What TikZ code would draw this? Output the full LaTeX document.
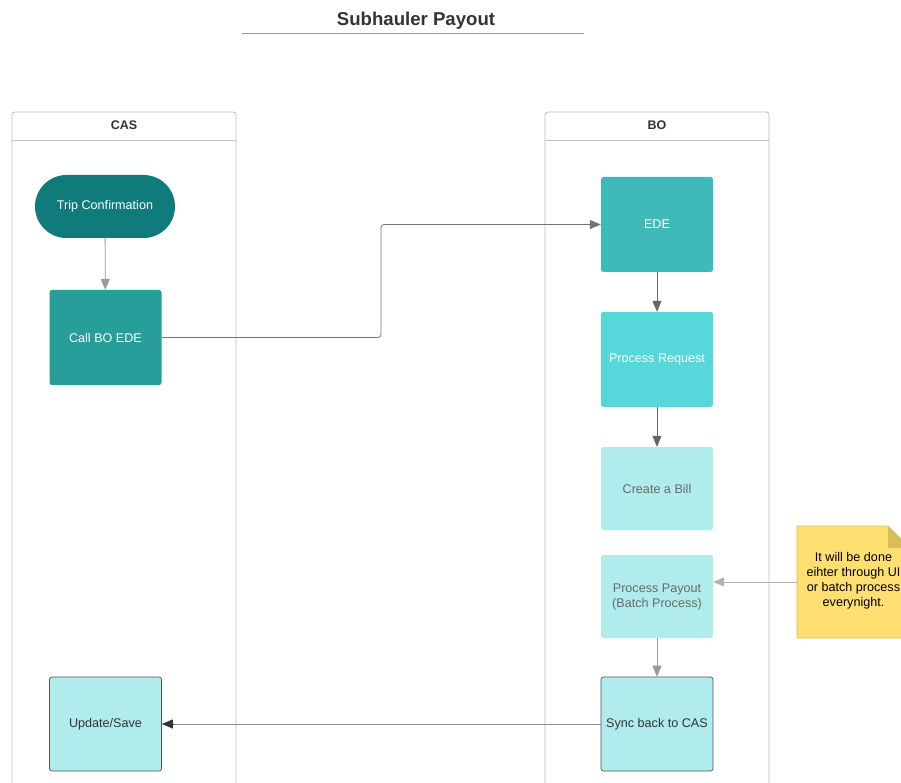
\documentclass[tikz,border=0pt]{standalone}
\usepackage{fontspec}
\setmainfont{Liberation Sans}
\usetikzlibrary{arrows.meta,positioning}
\definecolor{tripc}{HTML}{0F7B7B}
\definecolor{callc}{HTML}{279E99}
\definecolor{edec}{HTML}{3FB9BA}
\definecolor{prc}{HTML}{56D7DA}
\definecolor{lightc}{HTML}{B0ECEC}
\definecolor{notec}{HTML}{FFDF71}
\definecolor{noteb}{HTML}{D9BE55}
\definecolor{foldc}{HTML}{D8BD5A}
\definecolor{lanec}{HTML}{BDBDBD}
\definecolor{txtd}{HTML}{333333}
\definecolor{txtg}{HTML}{6A6A6A}
\tikzset{
  proc/.style={rectangle, rounded corners=2.5pt, minimum width=112pt, inner sep=2pt, align=center, font=\fontsize{12.6}{15}\selectfont},
  dark/.style={proc, fill=#1, text=white},
  pale/.style={proc, fill=lightc, text=txtg},
  framed/.style={proc, fill=lightc, draw=txtd!85, line width=0.7pt, text=txtd},
  conn/.style={line width=0.8pt, draw=#1, -{Triangle[length=11pt,width=9pt,fill=#1]}},
  lanehead/.style={font=\bfseries\fontsize{12.5}{15}\selectfont, text=txtd},
}
\begin{document}
\begin{tikzpicture}[x=1pt,y=-1pt]
\clip (0,0) rectangle (901,783);
\fill[white] (0,0) rectangle (901,783);
% title
\node[font=\bfseries\fontsize{18.6}{21}\selectfont, text=txtd] (title) at (416,20.5) {Subhauler Payout};
\draw[line width=1pt, draw=black!40] (242,34) -- (584,34);
% lanes
\draw[lanec, line width=0.8pt, rounded corners=3pt] (12,800) -- (12,112) -- (236,112) -- (236,800);
\draw[lanec, line width=0.8pt] (12,140) -- (236,140);
\node[lanehead] (cas) at (124,125) {CAS};
\draw[lanec, line width=0.8pt, rounded corners=3pt] (545,800) -- (545,112) -- (769,112) -- (769,800);
\draw[lanec, line width=0.8pt] (545,140) -- (769,140);
\node[lanehead] (bo) at (657,125) {BO};
% nodes
\node[dark=tripc, rounded corners=31.5pt, minimum width=140pt, minimum height=63pt] (trip) at (105,206.5) {Trip Confirmation};
\node[dark=callc, minimum height=95pt] (call) at (105.5,337.5) {Call BO EDE};
\node[dark=edec, minimum height=95pt] (ede) at (657,224.5) {EDE};
\node[dark=prc, minimum height=95pt] (pr) at (657,359.5) {Process Request};
\node[pale, minimum height=83pt] (bill) at (657,488.5) {Create a Bill};
\node[pale, minimum height=83pt] (payout) at (657,596.5) {Process Payout\\(Batch Process)};
\node[framed, minimum height=94pt] (sync) at (657,724) {Sync back to CAS};
\node[framed, minimum height=94pt] (upd) at (105.5,724) {Update/Save};
% note
\fill[notec, draw=noteb, line width=0.8pt] (797,526) -- (888,526) -- (910,548) -- (910,638) -- (797,638) -- cycle;
\fill[foldc] (888,526) -- (888,548) -- (910,548) -- cycle;
\node[font=\fontsize{12.6}{15}\selectfont, align=center, text=black, inner sep=0pt] (note) at (853.5,580.5) {It will be done\\eihter through UI\\or batch process\\everynight.};
\coordinate (noteL) at (797,582);
% connectors
\draw[conn=black!40] (trip) -- (call);
\draw[conn=black!55, rounded corners=3pt] (call.east) -- (381,337.5) -- (381,224.5) -- (ede.west);
\draw[conn=black!60] (ede) -- (pr);
\draw[conn=black!60] (pr) -- (bill);
\draw[conn=black!30] (noteL) -- (payout.east |- noteL);
\draw[conn=black!40] (payout) -- (sync);
\draw[line width=0.8pt, draw=black!45] (sync.west) -- ([xshift=11pt]upd.east);
\draw[line width=0.8pt, draw=black!80, -{Triangle[length=11pt,width=9pt]}] ([xshift=11pt]upd.east) -- (upd.east);
\end{tikzpicture}
\end{document}
